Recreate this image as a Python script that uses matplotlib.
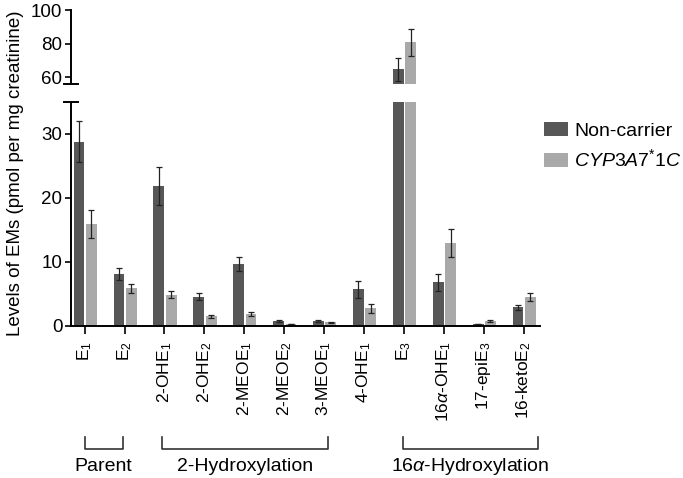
import matplotlib.pyplot as plt
import matplotlib.transforms as mtransforms
import numpy as np

plt.rcParams['font.family'] = ['Liberation Sans', 'DejaVu Sans']
plt.rcParams['mathtext.fontset'] = 'custom'
plt.rcParams['mathtext.rm'] = 'Liberation Sans'
plt.rcParams['mathtext.it'] = 'Liberation Sans:italic'

labels = [r'E$_1$', r'E$_2$', r'2-OHE$_1$', r'2-OHE$_2$', r'2-MEOE$_1$', r'2-MEOE$_2$',
          r'3-MEOE$_1$', r'4-OHE$_1$', r'E$_3$', r'16$\alpha$-OHE$_1$', r'17-epiE$_3$',
          r'16-ketoE$_2$']
noncarrier = [28.8, 8.1, 21.9, 4.6, 9.7, 0.8, 0.8, 5.7, 64.6, 6.8, 0.3, 2.9]
noncarrier_err = [3.2, 0.9, 3.0, 0.6, 1.1, 0.1, 0.1, 1.3, 7.0, 1.3, 0.05, 0.4]
carrier = [15.9, 5.9, 4.9, 1.5, 1.9, 0.3, 0.6, 2.8, 80.7, 12.9, 0.8, 4.5]
carrier_err = [2.2, 0.7, 0.6, 0.2, 0.3, 0.05, 0.1, 0.7, 8.0, 2.2, 0.2, 0.6]
groups = [("Parent", 0, 0.95), ("2-Hydroxylation", 1.95, 6.1), (r"16$\alpha$-Hydroxylation", 7.98, 11.35)]

dark = '#575757'
light = '#a9a9a9'
x = np.arange(len(labels))
w = 0.27

fig = plt.figure(figsize=(6.83, 4.78), dpi=100)
ax = fig.add_axes([0.1035, 0.318, 0.6865, 0.469])
ax_top = fig.add_axes([0.1035, 0.824, 0.6865, 0.155])

for a in (ax, ax_top):
    a.bar(x - 0.14, noncarrier, w, color=dark, yerr=noncarrier_err, capsize=2,
          error_kw=dict(ecolor='#222222', lw=0.9, capthick=0.9), label='Non-carrier')
    a.bar(x + 0.17, carrier, w, color=light, yerr=carrier_err, capsize=2,
          error_kw=dict(ecolor='#222222', lw=0.9, capthick=0.9), label=r'$\mathit{CYP3A7^{*}1C}$')
    a.set_xlim(-0.35, 11.4)
    for s in ('top', 'right'):
        a.spines[s].set_visible(False)
    a.spines['left'].set_linewidth(1.4)
    a.tick_params(axis='y', direction='out', length=4, width=1.2, labelsize=13.5, pad=2)

ax.set_ylim(0, 35)
ax.set_yticks([0, 10, 20, 30])
ax.spines['bottom'].set_linewidth(1.4)
ax.set_xticks(x)
ax.set_xticklabels(labels, rotation=90, fontsize=12.5)
ax.tick_params(axis='x', direction='out', length=6, width=1.2, pad=5)

ax_top.set_ylim(55.8, 100)
ax_top.set_yticks([60, 80, 100])
ax_top.spines['bottom'].set_visible(False)
ax_top.set_xticks([])

# caps on the broken axis ends
ax.plot([-0.015, 0.015], [1, 1], transform=ax.transAxes, color='black', lw=1.4, clip_on=False)
ax_top.plot([-0.015, 0.015], [0, 0], transform=ax_top.transAxes, color='black', lw=1.4, clip_on=False)

fig.text(0.022, 0.638, 'Levels of EMs (pmol per mg creatinine)', rotation=90,
         ha='center', va='center', fontsize=13.5)

handles, leg_labels = ax.get_legend_handles_labels()
fig.legend(handles, leg_labels, loc='upper left', bbox_to_anchor=(0.797, 0.745),
           frameon=False, fontsize=14, handlelength=1.24, handleheight=0.77,
           handletextpad=0.3, labelspacing=0.45, borderpad=0, borderaxespad=0)

trans = mtransforms.blended_transform_factory(ax.transData, fig.transFigure)
for name, x0, x1 in groups:
    ax.plot([x0, x0, x1, x1], [0.0858, 0.0607, 0.0607, 0.0858], transform=trans,
            color='#333333', lw=1.2, clip_on=False)
    fig.text((x0 + x1) / 2, 0.025, name, transform=trans, ha='center', va='center', fontsize=14)

fig.savefig('out.png', dpi=100)
